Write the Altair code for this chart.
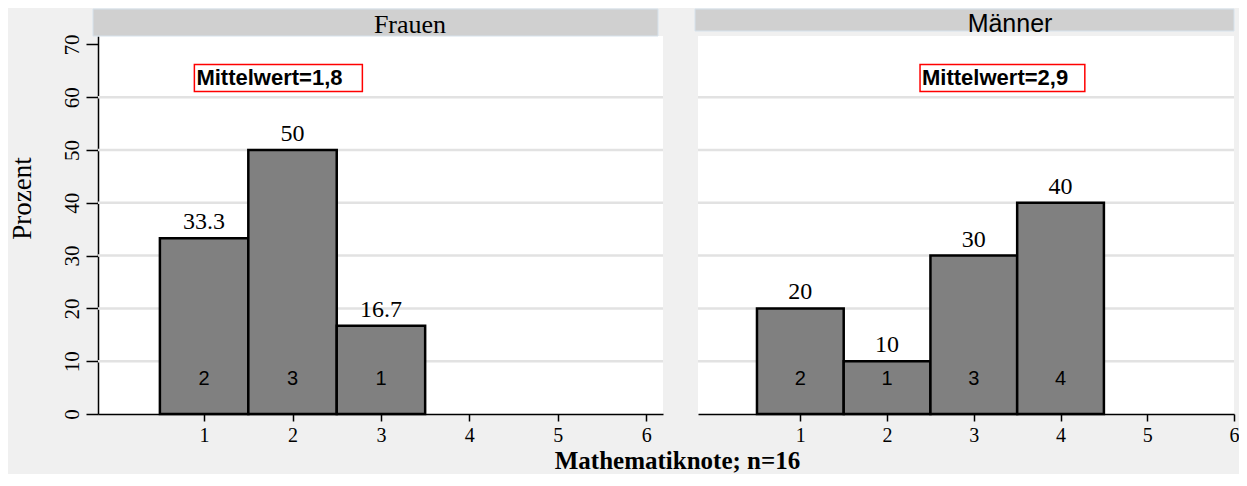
import altair as alt
import pandas as pd

# ---- data ----
panels = ["Frauen", "Männer"]
grades_f = [1, 2, 3]
percent_f = [33.3, 50, 16.7]
count_f = [2, 3, 1]
grades_m = [1, 2, 3, 4]
percent_m = [20, 10, 30, 40]
count_m = [2, 1, 3, 4]
means = [1.8, 2.9]
mean_box_center = [1.84, 3.33]   # annotation anchors (data units)
x_ticks = [1, 2, 3, 4, 5, 6]
y_ticks = [0, 10, 20, 30, 40, 50, 60, 70]
grid_values = [10, 20, 30, 40, 50, 60]
x_title = "Mathematiknote; n=16"
y_title = "Prozent"

SERIF = "Liberation Serif"
SANS = "Liberation Sans"
Y_MAX = 71.6
PLOT_H = 378
BOX_HALF = 0.95


def make_panel(name, grades, pct, counts, mean, box_c, width, xdom, show_y,
               header_font, header_size, hx0, hx1, hy2, text_y):
    df = pd.DataFrame({"grade": grades, "pct": pct, "n": counts,
                       "lbl": [f"{p:g}" for p in pct]})
    xs = alt.Scale(domain=xdom, nice=False, zero=False)
    ys = alt.Scale(domain=[0, Y_MAX], nice=False, zero=True)
    xaxis = alt.Axis(values=x_ticks, title=None, grid=False, labelFont=SERIF,
                     labelFontSize=20, labelColor="black", labelPadding=4,
                     tickSize=7, tickWidth=1.5, tickColor="black",
                     domainColor="black", domainWidth=1.5, labelAngle=0,
                     labelFlush=False, format="d")
    if show_y:
        yaxis = alt.Axis(values=y_ticks, title=y_title, grid=False,
                         labelFont=SERIF, labelFontSize=21, labelColor="black",
                         labelAngle=270, labelAlign="center",
                         labelBaseline="alphabetic", labelPadding=8,
                         tickSize=12, tickWidth=1.5, tickColor="black",
                         domainColor="black", domainWidth=1.5,
                         titleFont=SERIF, titleFontSize=27,
                         titleFontWeight="normal", titleColor="black",
                         titleAngle=270, titleAlign="center",
                         titleBaseline="alphabetic", titleX=-68, titleY=162,
                         format="d", labelFlush=False)
    else:
        yaxis = None

    grid = alt.Chart(pd.DataFrame({"g": grid_values})).mark_rule(
        color="#e2e2e2", strokeWidth=2.5
    ).encode(y=alt.Y("g:Q", scale=ys, axis=yaxis))

    bars = alt.Chart(df).transform_calculate(
        x0="datum.grade - 0.5", x1="datum.grade + 0.5", zero="0"
    ).mark_rect(fill="#808080", stroke="black", strokeWidth=2.5).encode(
        x=alt.X("x0:Q", scale=xs, axis=xaxis), x2="x1:Q",
        y=alt.Y("pct:Q", scale=ys, axis=yaxis), y2="zero:Q")

    pct_lbl = alt.Chart(df).mark_text(
        font=SERIF, fontSize=24, baseline="alphabetic", dy=-9, color="black"
    ).encode(x=alt.X("grade:Q", scale=xs, axis=xaxis),
             y=alt.Y("pct:Q", scale=ys, axis=yaxis), text="lbl:N")

    cnt_lbl = alt.Chart(df).transform_calculate(ny="6.6").mark_text(
        font=SANS, fontSize=20, baseline="middle", color="black"
    ).encode(x=alt.X("grade:Q", scale=xs, axis=xaxis),
             y=alt.Y("ny:Q", scale=ys, axis=yaxis), text="n:Q")

    mdf = pd.DataFrame({"cx": [box_c],
                        "label": [f"Mittelwert={mean:.1f}".replace(".", ",")]})
    box = alt.Chart(mdf).transform_calculate(
        bx0=f"datum.cx - {BOX_HALF}", bx1=f"datum.cx + {BOX_HALF}",
        by0="61.1", by1="66.2"
    ).mark_rect(fill="white", stroke="#ff0000", strokeWidth=1.5).encode(
        x=alt.X("bx0:Q", scale=xs, axis=xaxis), x2="bx1:Q",
        y=alt.Y("by0:Q", scale=ys, axis=yaxis), y2="by1:Q")
    box_txt = alt.Chart(mdf).transform_calculate(
        tx=f"datum.cx - {BOX_HALF}", ty="63.65"
    ).mark_text(font=SANS, fontSize=22, fontWeight="bold", align="left",
                baseline="middle", dx=2, color="black").encode(
        x=alt.X("tx:Q", scale=xs, axis=xaxis),
        y=alt.Y("ty:Q", scale=ys, axis=yaxis), text="label:N")

    hdf = pd.DataFrame({"panel": [name]})
    hrect = alt.Chart(hdf).mark_rect(
        fill="#d0d0d0", stroke="#d6e2ec", strokeWidth=1
    ).encode(x=alt.value(hx0), x2=alt.value(hx1), y=alt.value(-27),
             y2=alt.value(hy2))
    htext = alt.Chart(hdf).mark_text(
        font=header_font, fontSize=header_size, baseline="alphabetic",
        align="center", color="black"
    ).encode(x=alt.value(312), y=alt.value(text_y), text="panel:N")

    return alt.layer(grid, bars, pct_lbl, cnt_lbl, box, box_txt, hrect,
                     htext).properties(width=width, height=PLOT_H)


left = make_panel(panels[0], grades_f, percent_f, count_f, means[0],
                  mean_box_center[0], 565, [-0.2, 6.19], True,
                  SERIF, 26, -5, 560, 0, -3)
right = make_panel(panels[1], grades_m, percent_m, count_m, means[1],
                   mean_box_center[1], 536, [-0.18, 6.0], False,
                   SANS, 25, -3, 536, -5, -4)

chart = alt.hconcat(left, right, spacing=29).properties(
    title=alt.TitleParams(x_title, orient="bottom", anchor="middle",
                          font=SERIF, fontSize=25, fontWeight="bold",
                          color="black", offset=4, dx=54),
    background="#f0f0f0",
    padding={"left": 0, "right": 0, "top": 0, "bottom": 0},
).configure_view(fill="white", stroke=None)

chart.save("out.html", embed_options={"renderer": "svg", "actions": False})
